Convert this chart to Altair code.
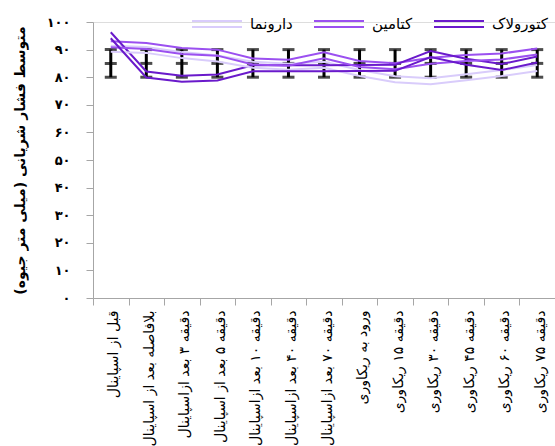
import altair as alt
import pandas as pd

categories = [
    "قبل از اسپاینال",
    "بلافاصله بعد از اسپاینال",
    "دقیقه ۳ بعد ازاسپاینال",
    "دقیقه ۵ بعد از اسپاینال",
    "دقیقه ۱۰ بعد ازاسپاینال",
    "دقیقه ۴۰ بعد ازاسپاینال",
    "دقیقه ۷۰ بعد ازاسپاینال",
    "ورود به ریکاوری",
    "دقیقه ۱۵ ریکاوری",
    "دقیقه ۳۰ ریکاوری",
    "دقیقه ۴۵ ریکاوری",
    "دقیقه ۶۰ ریکاوری",
    "دقیقه ۷۵ ریکاوری",
]

series_names = ["دارونما", "کتامین", "کتورولاک"]
series_colors = ["#D9CCFB", "#9B50F0", "#6A1ACB"]

placebo = [90.3, 89.9, 88.0, 86.8, 84.5, 83.8, 84.5, 81.5, 79.3, 78.5, 80.0, 81.5, 83.3]
ketamine = [91.9, 91.3, 89.5, 88.9, 85.7, 85.2, 87.9, 84.8, 84.0, 86.0, 87.0, 87.5, 89.3]
ketorolac = [95.2, 81.0, 79.4, 79.9, 83.2, 83.2, 83.2, 83.3, 83.4, 88.4, 85.6, 83.7, 86.4]

err_low = [80, 80, 80, 80, 80, 80, 80, 80, 80, 80, 80, 80, 80]
err_mid = [85, 85, 85, 85, 85, 85, 85, 85, 85, 85, 85, 85, 85]
err_high = [90, 90, 90, 90, 90, 90, 90, 90, 90, 90, 90, 90, 90]

y_ticks = [0, 10, 20, 30, 40, 50, 60, 70, 80, 90, 100]
y_tick_labels = ["۰", "۱۰", "۲۰", "۳۰", "۴۰", "۵۰", "۶۰", "۷۰", "۸۰", "۹۰", "۱۰۰"]

y_title = "متوسط فشار شریانی (میلی متر جیوه)"

FONT = "DejaVu Sans"

rows = []
for name, vals in zip(series_names, [placebo, ketamine, ketorolac]):
    for i, (c, v) in enumerate(zip(categories, vals)):
        rows.append({"category": c, "idx": i, "series": name, "value": v})
df = pd.DataFrame(rows)

err = pd.DataFrame({"category": categories, "low": err_low, "mid": err_mid, "high": err_high})

label_expr = ""
for v, l in zip(y_ticks, y_tick_labels):
    label_expr += f"datum.value == {v} ? '{l}' : "
label_expr += "''"

x_enc = alt.X(
    "category:N",
    sort=categories,
    scale=alt.Scale(type="band", domain=categories, paddingInner=0, paddingOuter=0),
    axis=alt.Axis(
        title=None,
        labelAngle=-90,
        labelFontSize=14,
        labelFont=FONT,
        labelColor="black",
        labelPadding=5,
        labelOffset=3,
        labelLimit=400,
        tickBand="extent",
        tickSize=7,
        tickColor="#A6A6A6",
        domainColor="#A6A6A6",
        labelOverlap=False,
    ),
)

y_scale = alt.Scale(domain=[0, 100], nice=False, zero=True)
y_axis = alt.Axis(
    title=y_title,
    values=y_ticks,
    tickCount=11,
    labelExpr=label_expr,
    labelFontSize=13,
    labelFontWeight="bold",
    labelFont=FONT,
    labelColor="black",
    labelPadding=16,
    labelOverlap=False,
    tickSize=7,
    tickColor="#A6A6A6",
    domainColor="#A6A6A6",
    grid=False,
    titleFontSize=14,
    titleFontWeight="bold",
    titleFont=FONT,
    titleColor="black",
    titlePadding=19,
)

rule = alt.Chart(err).mark_rule(color="black", strokeWidth=3).encode(
    x=x_enc,
    y=alt.Y("low:Q", scale=y_scale, axis=y_axis),
    y2="high:Q",
)

caps = alt.Chart(err).transform_fold(["low", "mid", "high"], as_=["k", "v"]).mark_tick(
    color="black", thickness=3, size=12
).encode(
    x=x_enc,
    y=alt.Y("v:Q", scale=y_scale, axis=y_axis),
)

legend = alt.Legend(
    title=None,
    orient="none",
    direction="horizontal",
    legendX=98,
    legendY=-24,
    symbolType="M-1,-0.12H1M-1,0.12H1",
    symbolSize=2500,
    symbolStrokeWidth=2,
    symbolFillColor="transparent",
    labelFontSize=15,
    labelFont=FONT,
    labelColor="black",
    labelOffset=7,
    columnPadding=17,
)

color_enc = alt.Color(
    "series:N",
    sort=series_names,
    scale=alt.Scale(domain=series_names, range=series_colors),
    legend=legend,
)

line_a = alt.Chart(df).mark_line(strokeWidth=2, yOffset=-3).encode(
    x=x_enc,
    y=alt.Y("value:Q", scale=y_scale, axis=y_axis),
    color=color_enc,
    order=alt.Order("idx:Q"),
)
line_b = alt.Chart(df).mark_line(strokeWidth=2, yOffset=3).encode(
    x=x_enc,
    y=alt.Y("value:Q", scale=y_scale, axis=y_axis),
    color=color_enc,
    order=alt.Order("idx:Q"),
)

chart = alt.layer(rule, caps, line_a, line_b).properties(
    width=462,
    height=276,
    padding={"left": 93, "top": 22, "right": 0, "bottom": 148},
    autosize=alt.AutoSizeParams(type="none"),
).configure_view(stroke=None).configure(font=FONT, background="white")

chart.save("out.html", embed_options={"renderer": "svg", "actions": False})
